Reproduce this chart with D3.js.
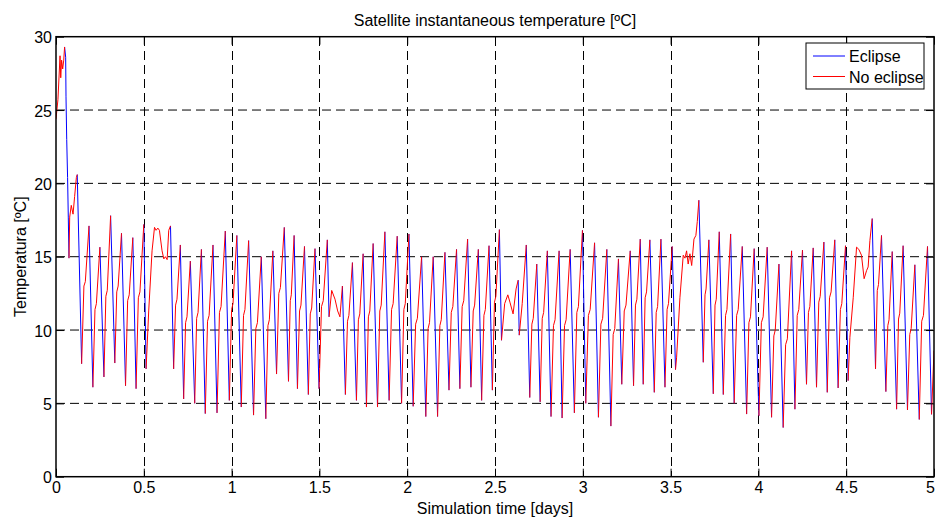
<!DOCTYPE html>
<html>
<head>
<meta charset="utf-8">
<script src="https://cdn.jsdelivr.net/npm/d3@7"></script>
<style>
  body { margin: 0; background: #fff; }
  text { font-family: "Liberation Sans", Arial, sans-serif; font-size: 16px; fill: #000; }
</style>
</head>
<body>
<div id="chart"></div>
<script>
// Simulation time [days], temperature [ºC] and which part each segment belongs to
// (1 = the segment ending at this point is in eclipse, 0 = sunlit)
const timeDays = [
  0, 0.011, 0.023, 0.027, 0.032, 0.038, 0.044, 0.049, 0.055, 0.057, 0.061, 0.066, 0.070, 0.074,
  0.078, 0.087, 0.097, 0.106, 0.116, 0.121, 0.146, 0.188, 0.210, 0.250, 0.273, 0.311, 0.335,
  0.373, 0.396, 0.4375, 0.456, 0.500, 0.513, 0.528, 0.547, 0.561, 0.570, 0.580, 0.589, 0.604,
  0.614, 0.623, 0.633, 0.642, 0.652, 0.670, 0.708, 0.727, 0.765, 0.790, 0.828, 0.850, 0.894,
  0.917, 0.964, 0.987, 1.030, 1.055, 1.097, 1.125, 1.169, 1.195, 1.235, 1.256, 1.300, 1.324,
  1.356, 1.375, 1.415, 1.437, 1.475, 1.498, 1.545, 1.555, 1.570, 1.589, 1.604, 1.617, 1.631,
  1.648, 1.688, 1.711, 1.749, 1.768, 1.806, 1.831, 1.873, 1.897, 1.943, 1.968, 2.010, 2.034,
  2.082, 2.106, 2.148, 2.173, 2.215, 2.238, 2.281, 2.300, 2.344, 2.363, 2.405, 2.424, 2.466,
  2.485, 2.525, 2.537, 2.555, 2.573, 2.585, 2.603, 2.620, 2.632, 2.638, 2.655, 2.678, 2.698,
  2.738, 2.757, 2.798, 2.819, 2.865, 2.882, 2.928, 2.952, 2.998, 3.017, 3.067, 3.089, 3.137,
  3.160, 3.203, 3.222, 3.270, 3.289, 3.327, 3.344, 3.382, 3.407, 3.445, 3.468, 3.509, 3.528,
  3.534, 3.553, 3.572, 3.582, 3.591, 3.600, 3.610, 3.620, 3.633, 3.644, 3.652, 3.661, 3.686,
  3.718, 3.743, 3.777, 3.800, 3.842, 3.862, 3.908, 3.933, 3.976, 4.003, 4.050, 4.075, 4.117,
  4.141, 4.189, 4.208, 4.251, 4.274, 4.312, 4.331, 4.373, 4.392, 4.435, 4.454, 4.496, 4.511,
  4.521, 4.540, 4.559, 4.572, 4.587, 4.602, 4.616, 4.625, 4.635, 4.648, 4.667, 4.701, 4.726,
  4.762, 4.787, 4.824, 4.849, 4.891, 4.916, 4.963, 4.986, 5.000
];
const tempC = [
  24.4, 25.7, 28.7, 27.2, 28.4, 27.8, 28.4, 29.3, 28.6, 25.9, 23.0, 20.4, 17.7, 14.9,
  17.7, 18.5, 17.9, 19.1, 20.4, 20.6, 7.7, 17.1, 6.1, 15.65, 6.8, 17.8, 7.75,
  16.6, 6.2, 16.3, 6.0, 17.2, 7.35, 11.3, 15.4, 17.0, 16.8, 16.95, 16.8, 15.4,
  14.85, 15.0, 14.8, 16.8, 17.1, 7.35, 15.8, 5.3, 14.7, 5.0, 15.5, 4.3, 15.8,
  4.35, 16.75, 5.2, 16.45, 4.75, 16.1, 4.2, 15.0, 3.95, 15.4, 7.0, 17.0, 6.5,
  16.45, 6.0, 15.7, 5.6, 15.55, 6.0, 16.15, 10.9, 12.7, 12.1, 11.3, 10.9, 13.0,
  5.6, 14.6, 5.2, 15.2, 4.75, 15.9, 4.75, 16.7, 5.2, 16.4, 5.0, 16.55, 4.8,
  15.0, 4.1, 15.0, 4.1, 15.3, 5.9, 15.5, 6.0, 16.2, 6.1, 15.5, 5.2, 15.75,
  5.9, 16.85, 9.3, 11.8, 12.4, 11.9, 11.1, 12.8, 13.4, 9.65, 11.8, 15.8, 5.4,
  14.5, 5.1, 15.4, 4.1, 15.4, 4.0, 15.5, 4.35, 16.8, 5.0, 15.95, 4.05, 15.5,
  3.45, 14.85, 6.3, 15.4, 6.2, 16.2, 6.3, 16.15, 5.75, 16.2, 6.1, 15.7, 7.3,
  8.1, 12.2, 15.1, 14.9, 15.4, 14.5, 15.2, 14.4, 16.2, 16.45, 17.4, 18.85, 7.8,
  16.15, 5.65, 16.7, 5.6, 16.55, 5.0, 15.7, 4.27, 15.55, 4.15, 15.65, 4.05, 14.5,
  3.35, 15.4, 4.6, 15.45, 6.3, 15.6, 6.1, 16.0, 5.75, 16.15, 6.05, 15.75, 6.55,
  9.5, 12.2, 15.65, 15.5, 15.1, 13.5, 14.05, 14.3, 16.1, 17.6, 7.35, 16.45, 5.8,
  15.35, 4.6, 15.75, 4.55, 14.45, 3.9, 15.7, 4.25, 8.6
];
const eclipseFlag = [
  0, 0, 0, 0, 0, 0, 0, 0, 1, 1, 1, 1, 1, 1,
  0, 0, 0, 0, 0, 0, 1, 0, 1, 0, 1, 0, 1,
  0, 1, 0, 1, 0, 1, 0, 0, 0, 0, 0, 0, 0,
  0, 0, 0, 0, 0, 1, 0, 1, 0, 1, 0, 1, 0,
  1, 0, 1, 0, 1, 0, 1, 0, 1, 0, 1, 0, 1,
  0, 1, 0, 1, 0, 1, 0, 1, 0, 0, 0, 0, 0,
  1, 0, 1, 0, 1, 0, 1, 0, 1, 0, 1, 0, 1,
  0, 1, 0, 1, 0, 1, 0, 1, 0, 1, 0, 1, 0,
  1, 0, 1, 0, 0, 0, 0, 0, 0, 1, 0, 0, 1,
  0, 1, 0, 1, 0, 1, 0, 1, 0, 1, 0, 1, 0,
  1, 0, 1, 0, 1, 0, 1, 0, 1, 0, 1, 0, 1,
  0, 0, 0, 0, 0, 0, 0, 0, 0, 0, 0, 0, 1,
  0, 1, 0, 1, 0, 1, 0, 1, 0, 1, 0, 1, 0,
  1, 0, 1, 0, 1, 0, 1, 0, 1, 0, 1, 0, 1,
  0, 0, 0, 0, 0, 0, 0, 0, 0, 0, 1, 0, 1,
  0, 1, 0, 1, 0, 1, 0, 1, 0
];

// short plateaus seen midway up each sunlit rise (start, end of each step)
const stepTimes = [
  0.159, 0.167, 0.222, 0.230, 0.284, 0.292, 0.346, 0.354, 0.408, 0.417, 0.469, 0.478,
  0.681, 0.689, 0.738, 0.746, 0.801, 0.809, 0.863, 0.872, 0.931, 0.940, 1.000, 1.008,
  1.068, 1.076, 1.138, 1.147, 1.207, 1.215, 1.269, 1.278, 1.334, 1.340, 1.387, 1.395,
  1.448, 1.456, 1.512, 1.522, 1.660, 1.668, 1.722, 1.730, 1.779, 1.787, 1.844, 1.852,
  1.911, 1.920, 1.981, 1.989, 2.048, 2.058, 2.119, 2.127, 2.186, 2.194, 2.251, 2.260,
  2.313, 2.322, 2.376, 2.384, 2.437, 2.445, 2.497, 2.505, 2.710, 2.718, 2.769, 2.777,
  2.833, 2.842, 2.896, 2.905, 2.966, 2.975, 3.032, 3.042, 3.103, 3.113, 3.173, 3.182,
  3.236, 3.246, 3.300, 3.308, 3.355, 3.363, 3.418, 3.426, 3.480, 3.488, 3.696, 3.702,
  3.753, 3.760, 3.813, 3.821, 3.876, 3.885, 3.946, 3.955, 4.017, 4.027, 4.088, 4.096,
  4.155, 4.165, 4.221, 4.230, 4.285, 4.293, 4.344, 4.352, 4.405, 4.414, 4.467, 4.475,
  4.677, 4.684, 4.737, 4.744, 4.798, 4.805, 4.862, 4.870, 4.930, 4.940
];
const stepTemps = [
  13.0, 13.3, 11.4, 11.8, 12.3, 12.7, 12.6, 13.0, 12.0, 12.4, 12.2, 12.6,
  11.7, 12.1, 10.5, 10.9, 10.8, 11.2, 10.6, 11.0, 11.2, 11.6, 11.4, 11.8,
  11.0, 11.4, 10.1, 10.5, 10.3, 10.7, 12.5, 12.9, 12.0, 12.4, 11.3, 11.7,
  11.1, 11.5, 11.6, 12.0, 10.6, 11.0, 10.7, 11.1, 10.9, 11.3, 11.3, 11.7,
  11.4, 11.8, 11.4, 11.8, 10.4, 10.8, 10.1, 10.5, 10.3, 10.7, 11.2, 11.6,
  11.6, 12.0, 11.3, 11.7, 11.0, 11.4, 11.9, 12.3, 10.4, 10.8, 10.8, 11.2,
  10.3, 10.7, 10.3, 10.7, 11.2, 11.6, 11.0, 11.4, 10.4, 10.8, 9.7, 10.1,
  11.3, 11.7, 11.7, 12.1, 12.2, 12.6, 11.2, 11.6, 11.4, 11.8, 12.4, 12.8,
  11.7, 12.1, 11.0, 11.4, 11.0, 11.4, 10.5, 10.9, 10.5, 10.9, 9.6, 10.0,
  9.0, 9.4, 11.0, 11.4, 11.2, 11.6, 11.9, 12.3, 12.2, 12.6, 11.4, 11.8,
  12.7, 13.1, 10.3, 10.7, 10.75, 11.15, 9.7, 10.1, 10.6, 11.0
];

const xTicks = [0, 0.5, 1, 1.5, 2, 2.5, 3, 3.5, 4, 4.5, 5];
const yTicks = [0, 5, 10, 15, 20, 25, 30];
const seriesNames = ["Eclipse", "No eclipse"];
const seriesColors = ["#0000ff", "#ff0000"];

const W = 935, H = 517;
const plot = { left: 56, right: 934, top: 36.7, bottom: 476.7 };

const svg = d3.select("#chart")
  .append("svg")
  .attr("width", W)
  .attr("height", H);

svg.append("rect")
  .attr("width", W)
  .attr("height", H)
  .attr("fill", "#fff");

const x = d3.scaleLinear().domain([0, 5]).range([plot.left, plot.right]);
const y = d3.scaleLinear().domain([0, 30]).range([plot.bottom, plot.top]);

// grid
svg.append("g")
  .selectAll("line")
  .data(xTicks.slice(1, -1))
  .enter()
  .append("line")
  .attr("x1", d => Math.round(x(d)) + 0.5)
  .attr("x2", d => Math.round(x(d)) + 0.5)
  .attr("y1", plot.top)
  .attr("y2", plot.bottom)
  .attr("stroke", "#000")
  .attr("stroke-width", 1)
  .attr("stroke-dasharray", "9,5")
  .attr("shape-rendering", "crispEdges");

svg.append("g")
  .selectAll("line")
  .data(yTicks.slice(1, -1))
  .enter()
  .append("line")
  .attr("x1", plot.left)
  .attr("x2", plot.right)
  .attr("y1", d => y(d))
  .attr("y2", d => y(d))
  .attr("stroke", "#000")
  .attr("stroke-width", 1)
  .attr("stroke-dasharray", "9,5");

// merge the read points with the plateau points, in time order
const points = timeDays.map((t, i) => ({ t: t, v: tempC[i], e: eclipseFlag[i] }))
  .concat(stepTimes.map((t, i) => ({ t: t, v: stepTemps[i], e: 0 })))
  .sort((a, b) => a.t - b.t);

// a segment belongs to the series of its end point
function seriesData(flag) {
  const out = [];
  let open = false;
  for (let i = 1; i < points.length; i++) {
    if (points[i].e === flag) {
      if (!open) {
        if (out.length) out.push(null);
        out.push(points[i - 1]);
        open = true;
      }
      out.push(points[i]);
    } else {
      open = false;
    }
  }
  return out;
}

svg.append("clipPath")
  .attr("id", "clip")
  .append("rect")
  .attr("x", plot.left)
  .attr("y", plot.top)
  .attr("width", plot.right - plot.left)
  .attr("height", plot.bottom - plot.top);

const line = d3.line()
  .defined(d => d !== null)
  .x(d => x(d.t))
  .y(d => y(d.v));

[1, 0].forEach((flag, k) => {
  svg.append("path")
    .datum(seriesData(flag))
    .attr("clip-path", "url(#clip)")
    .attr("fill", "none")
    .attr("stroke", seriesColors[k])
    .attr("stroke-width", 1)
    .attr("stroke-linejoin", "round")
    .attr("d", line);
});

// axes box
svg.append("rect")
  .attr("x", plot.left)
  .attr("y", plot.top)
  .attr("width", plot.right - plot.left)
  .attr("height", plot.bottom - plot.top)
  .attr("fill", "none")
  .attr("stroke", "#000")
  .attr("stroke-width", 1.5);

const xAxis = d3.axisBottom(x)
  .tickValues(xTicks)
  .tickFormat(d => String(d))
  .tickSize(-8)
  .tickPadding(5);

svg.append("g")
  .attr("transform", `translate(0,${plot.bottom})`)
  .call(xAxis)
  .call(g => g.select(".domain").remove())
  .call(g => g.selectAll("text").attr("font-size", null).attr("font-family", null))
  .call(g => g.selectAll("text").filter(d => d === 5).attr("dx", "-0.25em"));

svg.append("g")
  .attr("transform", `translate(0,${plot.top})`)
  .call(d3.axisTop(x).tickValues(xTicks).tickSize(-8).tickFormat(""))
  .call(g => g.select(".domain").remove());

const yAxis = d3.axisLeft(y)
  .tickValues(yTicks)
  .tickFormat(d => String(d))
  .tickSize(-8)
  .tickPadding(4);

svg.append("g")
  .attr("transform", `translate(${plot.left},0)`)
  .call(yAxis)
  .call(g => g.select(".domain").remove())
  .call(g => g.selectAll("text").attr("dy", "0.38em").attr("font-size", null).attr("font-family", null));

svg.append("g")
  .attr("transform", `translate(${plot.right},0)`)
  .call(d3.axisRight(y).tickValues(yTicks).tickSize(-8).tickFormat(""))
  .call(g => g.select(".domain").remove());

svg.selectAll(".tick line").attr("stroke", "#000");

// titles
svg.append("text")
  .attr("x", (plot.left + plot.right) / 2)
  .attr("y", 26)
  .attr("text-anchor", "middle")
  .text("Satellite instantaneous temperature [ºC]");

svg.append("text")
  .attr("x", (plot.left + plot.right) / 2)
  .attr("y", 514)
  .attr("text-anchor", "middle")
  .text("Simulation time [days]");

svg.append("text")
  .attr("transform", `translate(25.5,${(plot.top + plot.bottom) / 2}) rotate(-90)`)
  .attr("text-anchor", "middle")
  .text("Temperatura [ºC]");

// legend
const legend = svg.append("g");
legend.append("rect")
  .attr("x", 806)
  .attr("y", 43)
  .attr("width", 118)
  .attr("height", 46)
  .attr("fill", "#fff")
  .attr("stroke", "#000")
  .attr("stroke-width", 1);

seriesNames.forEach((name, i) => {
  const ly = 56 + i * 20.5;
  legend.append("line")
    .attr("x1", 813)
    .attr("x2", 845)
    .attr("y1", ly)
    .attr("y2", ly)
    .attr("stroke", seriesColors[i])
    .attr("stroke-width", 1);
  legend.append("text")
    .attr("x", 849)
    .attr("y", ly + 6)
    .text(name);
});
</script>
</body>
</html>
